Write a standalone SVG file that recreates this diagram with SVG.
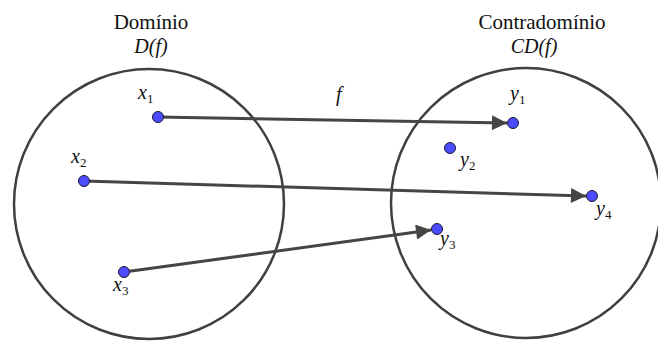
<svg xmlns="http://www.w3.org/2000/svg" width="658" height="341" viewBox="0 0 658 341">
<style>
.set{fill:none;stroke:#404040;stroke-width:2.5}
.arr{stroke:#454545;stroke-width:3;fill:none}
.pt{fill:#4c4cff;stroke:#1a1a33;stroke-width:1}
.t{font-family:"Liberation Serif","DejaVu Serif",serif;font-size:21px;fill:#111}
.m{font-family:"Liberation Serif","DejaVu Serif",serif;font-style:italic;font-size:20px;fill:#111}
.s{font-style:normal;font-size:13px}
</style>
<defs>
<marker id="ah" viewBox="0 0 10 10" refX="10" refY="5" markerWidth="5.5" markerHeight="5" orient="auto" markerUnits="strokeWidth">
<path d="M0,0 L10,5 L0,10 Z" fill="#454545"/>
</marker>
</defs>
<g id="dominio">
<circle class="set" cx="149" cy="204" r="135"/>
<text class="t" x="151" y="29" text-anchor="middle">Domínio</text>
<text class="m" x="151" y="53" text-anchor="middle">D(f)</text>
</g>
<g id="contradominio">
<circle class="set" cx="526" cy="203" r="135"/>
<text class="t" x="542" y="29" text-anchor="middle">Contradomínio</text>
<text class="m" x="534" y="53" text-anchor="middle">CD(f)</text>
</g>
<g id="connectors">
<line class="arr" x1="158" y1="117" x2="507" y2="123" marker-end="url(#ah)"/>
<line class="arr" x1="84" y1="181" x2="586" y2="196" marker-end="url(#ah)"/>
<line class="arr" x1="124" y1="272" x2="431" y2="230" marker-end="url(#ah)"/>
<text class="m" x="336" y="101">f</text>
</g>
<g id="x1"><circle class="pt" cx="158" cy="117" r="5.5"/><text class="m" x="138" y="99">x<tspan class="s" dy="4">1</tspan></text></g>
<g id="x2"><circle class="pt" cx="84" cy="181" r="5.5"/><text class="m" x="71" y="163">x<tspan class="s" dy="4">2</tspan></text></g>
<g id="x3"><circle class="pt" cx="124" cy="272" r="5.5"/><text class="m" x="113" y="291">x<tspan class="s" dy="4">3</tspan></text></g>
<g id="y1"><circle class="pt" cx="513" cy="123" r="5.5"/><text class="m" x="510" y="100">y<tspan class="s" dy="4">1</tspan></text></g>
<g id="y2"><circle class="pt" cx="450" cy="148" r="5.5"/><text class="m" x="460" y="166">y<tspan class="s" dy="4">2</tspan></text></g>
<g id="y3"><circle class="pt" cx="437" cy="229" r="5.5"/><text class="m" x="440" y="245">y<tspan class="s" dy="4">3</tspan></text></g>
<g id="y4"><circle class="pt" cx="592" cy="196" r="5.5"/><text class="m" x="596" y="215">y<tspan class="s" dy="4">4</tspan></text></g>
</svg>
